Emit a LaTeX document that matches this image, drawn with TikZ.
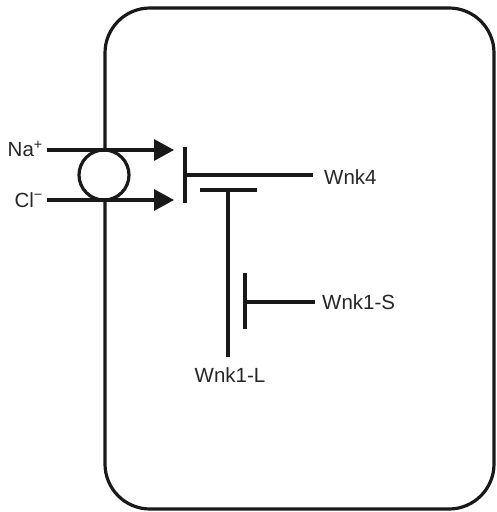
\documentclass[tikz,border=0pt]{standalone}
\usepackage{fontspec}
\setmainfont{Liberation Sans}
\usetikzlibrary{arrows.meta}
\begin{document}
\begin{tikzpicture}[x=1bp,y=-1bp,
  wire/.style={line width=3.2bp,draw=black!90},
  lbl/.style={inner sep=0pt,font=\fontsize{20.5bp}{24bp}\selectfont,text=black!85},
  act/.style={wire,-{Triangle[length=20bp,width=21bp]}}]
\useasboundingbox (0,0) rectangle (497,512);
% cell
\draw[wire,rounded corners=45bp] (105,8) rectangle (494,509);
% cotransporter
\node[circle,draw=black!90,line width=3.2bp,fill=white,minimum size=50bp,inner sep=0pt] (co) at (104,175) {};
% ions
\node[lbl,anchor=east] (na) at (43,149) {Na\textsuperscript{+}};
\node[lbl,anchor=east] (cl) at (43,200) {Cl\textsuperscript{\char"2212}};
\coordinate (naS) at (47,150);
\coordinate (naE) at (174,150);
\coordinate (clS) at (47,200);
\coordinate (clE) at (174,200);
\draw[act] (naS) -- (naE);
\draw[act] (clS) -- (clE);
% Wnk4 inhibits
\coordinate (b1t) at (185,147);
\coordinate (b1b) at (185,203);
\coordinate (b1m) at (185,175);
\node[lbl,anchor=west] (wnk4) at (324,177) {Wnk4};
\coordinate (w4e) at (313,175);
\draw[wire] (b1t) -- (b1b);
\draw[wire] (b1m) -- (w4e);
% Wnk1-L inhibits Wnk4
\coordinate (b2l) at (200,190);
\coordinate (b2r) at (257,190);
\coordinate (b2m) at (228,190);
\coordinate (w1le) at (228,357);
\node[lbl,anchor=north] (wnk1l) at (230,367) {Wnk1-L};
\draw[wire] (b2l) -- (b2r);
\draw[wire] (b2m) -- (w1le);
% Wnk1-S inhibits Wnk1-L
\coordinate (b3t) at (245,273);
\coordinate (b3b) at (245,329);
\coordinate (b3m) at (245,302);
\coordinate (w1se) at (315,302);
\node[lbl,anchor=west] (wnk1s) at (322,302) {Wnk1-S};
\draw[wire] (b3t) -- (b3b);
\draw[wire] (b3m) -- (w1se);
\end{tikzpicture}
\end{document}
